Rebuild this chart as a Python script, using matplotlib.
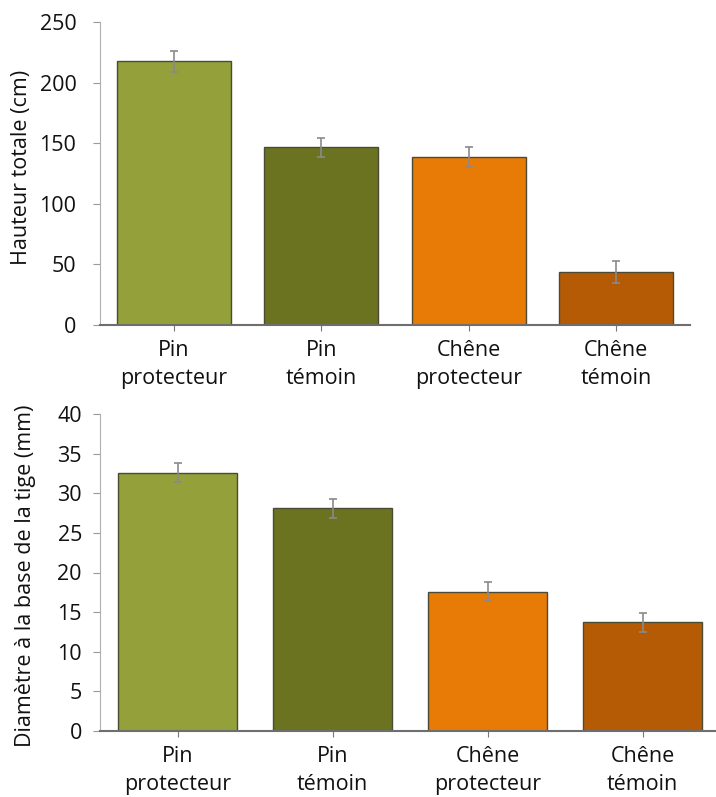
import matplotlib.pyplot as plt
import numpy as np

# data
categories = ["Pin\nprotecteur", "Pin\ntémoin", "Chêne\nprotecteur", "Chêne\ntémoin"]
hauteur = [217.5, 146.5, 138.5, 44.0]
hauteur_err = [8.5, 8.0, 8.5, 9.0]
diametre = [32.6, 28.1, 17.6, 13.7]
diametre_err = [1.2, 1.2, 1.2, 1.2]
bar_colors = ["#94a03a", "#6b7320", "#e87b05", "#b55a05"]

plt.rcParams['font.family'] = ['Open Sans', 'DejaVu Sans']
plt.rcParams['font.size'] = 15.5

fig = plt.figure(figsize=(7.16, 7.97), dpi=100)
W, H = 716, 797


def draw(ax, vals, errs, ylim, yticks, ylabel, label_xy, ypad):
    x = np.arange(len(categories))
    ax.bar(x, vals, width=0.77, color=bar_colors, edgecolor="#4b4b35", linewidth=1.0)
    ax.errorbar(x, vals, yerr=errs, fmt="none", ecolor="#8a8a8a",
                elinewidth=1.2, capsize=3, capthick=1.2)
    ax.set_xlim(-0.5, 3.5)
    ax.set_ylim(*ylim)
    ax.set_yticks(yticks)
    ax.set_xticks(x)
    ax.set_xticklabels(categories, linespacing=1.4)
    ax.spines["top"].set_visible(False)
    ax.spines["right"].set_visible(False)
    ax.spines["left"].set_color("#b0b0b0")
    ax.spines["bottom"].set_color("#6e6e6e")
    ax.spines["bottom"].set_linewidth(1.5)
    ax.tick_params(axis="y", length=5, color="#999999", pad=ypad, labelcolor="#111111")
    ax.tick_params(axis="x", length=4, color="#777777", pad=7, labelcolor="#111111")
    ax.set_ylabel(ylabel, color="#111111")
    ax.yaxis.set_label_coords(*label_xy)


ax1 = fig.add_axes([100 / W, (H - 325) / H, 590 / W, 303 / H])
draw(ax1, hauteur, hauteur_err, (0, 250), range(0, 251, 50),
     "Hauteur totale (cm)", (-0.115, 0.52), 12)

ax2 = fig.add_axes([100 / W, (H - 731) / H, 620 / W, 317 / H])
draw(ax2, diametre, diametre_err, (0, 40), range(0, 41, 5),
     "Diamètre à la base de la tige (mm)", (-0.104, 0.49), 8)

fig.savefig("out.png", dpi=100)
